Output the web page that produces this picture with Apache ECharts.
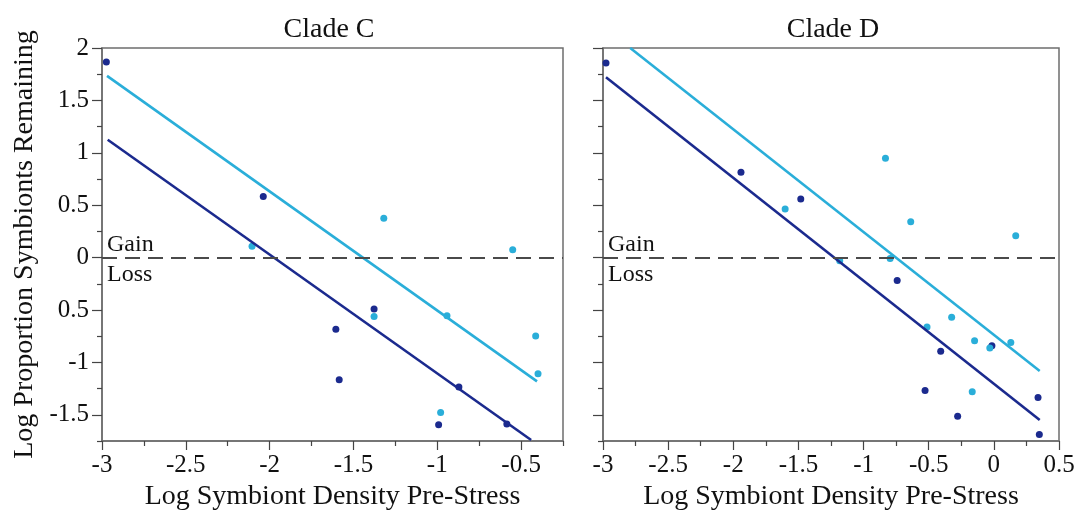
<!DOCTYPE html>
<html>
<head>
<meta charset="utf-8">
<script src="https://cdn.jsdelivr.net/npm/echarts@6/dist/echarts.min.js"></script>
<style>
html,body{margin:0;padding:0;background:#fff;}
#chart{width:1080px;height:516px;}
</style>
</head>
<body>
<div id="chart"></div>
<script>
// ---- Data ----
const panelTitles = ['Clade C', 'Clade D'];
const xAxisName = 'Log Symbiont Density Pre-Stress';
const yAxisName = 'Log Proportion Symbionts Remaining';

const yTickValues = [-1.5, -1, -0.5, 0, 0.5, 1, 1.5, 2];
const yTickLabels = ['-1.5', '-1', '0.5', '0', '0.5', '1', '1.5', '2'];
const yMinorValues = [-1.75, -1.25, -0.75, -0.25, 0.25, 0.75, 1.25, 1.75];

const xTickValuesC = [-3, -2.5, -2, -1.5, -1, -0.5];
const xTickLabelsC = ['-3', '-2.5', '-2', '-1.5', '-1', '-0.5'];
const xMinorValuesC = [-2.75, -2.25, -1.75, -1.25, -0.75, -0.25];
const xTickValuesD = [-3, -2.5, -2, -1.5, -1, -0.5, 0, 0.5];
const xTickLabelsD = ['-3', '-2.5', '-2', '-1.5', '-1', '-0.5', '0', '0.5'];
const xMinorValuesD = [-2.75, -2.25, -1.75, -1.25, -0.75, -0.25, 0.25];

// Clade C points
const cNavyX = [-2.974, -2.038, -1.377, -1.605, -1.585, -0.871, -0.992, -0.585];
const cNavyY = [1.866, 0.584, -0.491, -0.684, -1.166, -1.234, -1.594, -1.588];
const cCyanX = [-2.105, -1.319, -1.377, -0.942, -0.550, -0.413, -0.399, -0.980];
const cCyanY = [0.109, 0.375, -0.563, -0.556, 0.075, -0.747, -1.109, -1.478];
// Clade C fitted lines
const cNavyLineX = [-2.966, -0.440];
const cNavyLineY = [1.125, -1.741];
const cCyanLineX = [-2.970, -0.405];
const cCyanLineY = [1.734, -1.181];

// Clade D points
const dNavyX = [-2.977, -1.941, -1.482, -0.742, -0.408, -0.015, -0.528, -0.278, 0.339, 0.349];
const dNavyY = [1.857, 0.815, 0.560, -0.218, -0.893, -0.840, -1.269, -1.515, -1.334, -1.689];
const dCyanX = [-0.832, -0.638, -1.602, 0.168, -0.796, -1.183, -0.513, -0.324, -0.148, -0.031, 0.130, -0.166];
const dCyanY = [0.949, 0.342, 0.463, 0.208, -0.009, -0.030, -0.662, -0.569, -0.793, -0.862, -0.809, -1.281];
// Clade D fitted lines
const dNavyLineX = [-2.977, 0.352];
const dNavyLineY = [1.720, -1.549];
const dCyanLineX = [-2.791, 0.352];
const dCyanLineY = [2.000, -1.082];

// ---- Styles ----
const NAVY = '#1b2a8e';
const CYAN = '#2aaed9';
const FONT = '"Liberation Serif", "Times New Roman", serif';
const FRAME = '#6e6e6e';

const zip = (xs, ys) => xs.map((x, i) => [x, ys[i]]);

const chart = echarts.init(document.getElementById('chart'), null, {renderer: 'canvas'});

const grids = [
  {left: 102, top: 48, width: 461, height: 399, show: true, borderColor: FRAME, borderWidth: 1.5, backgroundColor: 'transparent'},
  {left: 603, top: 48, width: 456, height: 400, show: true, borderColor: FRAME, borderWidth: 1.5, backgroundColor: 'transparent'}
];

function xMajor(gridIndex, min, max, vals, labels, withName) {
  return {
    type: 'value', gridIndex, min, max, position: 'bottom',
    axisLine: {show: true, onZero: false, lineStyle: {color: FRAME, width: 1.5}},
    splitLine: {show: false},
    axisTick: {show: true, inside: false, length: 9, customValues: vals, lineStyle: {color: '#444', width: 1.2}},
    axisLabel: {show: true, customValues: vals, margin: 12, fontFamily: FONT, fontSize: 25, color: '#111',
      formatter: v => { const i = vals.findIndex(t => Math.abs(t - v) < 1e-9); return i >= 0 ? labels[i] : ''; }},
    name: withName ? xAxisName : '', nameLocation: 'middle', nameGap: 42,
    nameTextStyle: {fontFamily: FONT, fontSize: 28, color: '#111'}
  };
}
function xMinor(gridIndex, min, max, vals) {
  return {
    type: 'value', gridIndex, min, max, position: 'bottom',
    axisLine: {show: false, onZero: false}, splitLine: {show: false},
    axisTick: {show: true, length: 5, customValues: vals, lineStyle: {color: '#444', width: 1.2}},
    axisLabel: {show: false}
  };
}
function yMajor(gridIndex, showLabels, withName) {
  return {
    type: 'value', gridIndex, min: -1.75, max: 2, position: 'left',
    axisLine: {show: true, onZero: false, lineStyle: {color: FRAME, width: 1.5}},
    splitLine: {show: false},
    axisTick: {show: true, length: 10, customValues: yTickValues, lineStyle: {color: '#444', width: 1.2}},
    axisLabel: {show: showLabels, customValues: yTickValues, margin: 13, fontFamily: FONT, fontSize: 25, color: '#111',
      formatter: v => { const i = yTickValues.findIndex(t => Math.abs(t - v) < 1e-9); return i >= 0 ? yTickLabels[i] : ''; }},
    name: withName ? yAxisName : '', nameLocation: 'middle', nameGap: 63, nameRotate: 90,
    nameTextStyle: {fontFamily: FONT, fontSize: 28, color: '#111'}
  };
}
function yMinor(gridIndex) {
  return {
    type: 'value', gridIndex, min: -1.75, max: 2, position: 'left',
    axisLine: {show: false, onZero: false}, splitLine: {show: false},
    axisTick: {show: true, length: 5, customValues: yMinorValues, lineStyle: {color: '#444', width: 1.2}},
    axisLabel: {show: false}
  };
}

const zeroLine = {
  silent: true, symbol: ['none', 'none'],
  lineStyle: {color: '#4a4a4a', type: [15, 8], width: 1.8},
  label: {show: false},
  data: [{yAxis: 0}]
};

function scatter(xi, yi, xs, ys, color, withZero) {
  const s = {
    type: 'scatter', xAxisIndex: xi, yAxisIndex: yi, data: zip(xs, ys),
    symbolSize: 7, itemStyle: {color: color, opacity: 1}, z: 2
  };
  if (withZero) s.markLine = zeroLine;
  return s;
}
function fit(xi, yi, xs, ys, color) {
  return {
    type: 'line', xAxisIndex: xi, yAxisIndex: yi, data: zip(xs, ys),
    showSymbol: false, symbol: 'none', clip: true,
    lineStyle: {color: color, width: 2.6}, z: 3
  };
}

const option = {
  backgroundColor: '#fff',
  animation: false,
  title: [
    {text: panelTitles[0], left: 324, top: 11, textAlign: 'center',
     textStyle: {fontFamily: FONT, fontSize: 28, fontWeight: 'normal', color: '#111'}},
    {text: panelTitles[1], left: 828, top: 11, textAlign: 'center',
     textStyle: {fontFamily: FONT, fontSize: 28, fontWeight: 'normal', color: '#111'}}
  ],
  grid: grids,
  xAxis: [
    xMajor(0, -3, -0.25, xTickValuesC, xTickLabelsC, true),
    xMajor(1, -3, 0.5, xTickValuesD, xTickLabelsD, true),
    xMinor(0, -3, -0.25, xMinorValuesC),
    xMinor(1, -3, 0.5, xMinorValuesD)
  ],
  yAxis: [
    yMajor(0, true, true),
    yMajor(1, false, false),
    yMinor(0),
    yMinor(1)
  ],
  graphic: [
    {type: 'text', left: 107, top: 233, style: {text: 'Gain', font: '24px ' + FONT, fill: '#111'}},
    {type: 'text', left: 107, top: 263, style: {text: 'Loss', font: '24px ' + FONT, fill: '#111'}},
    {type: 'text', left: 608, top: 233, style: {text: 'Gain', font: '24px ' + FONT, fill: '#111'}},
    {type: 'text', left: 608, top: 263, style: {text: 'Loss', font: '24px ' + FONT, fill: '#111'}}
  ],
  series: [
    scatter(0, 0, cNavyX, cNavyY, NAVY, true),
    scatter(0, 0, cCyanX, cCyanY, CYAN, false),
    fit(0, 0, cCyanLineX, cCyanLineY, CYAN),
    fit(0, 0, cNavyLineX, cNavyLineY, NAVY),
    scatter(1, 1, dNavyX, dNavyY, NAVY, true),
    scatter(1, 1, dCyanX, dCyanY, CYAN, false),
    fit(1, 1, dCyanLineX, dCyanLineY, CYAN),
    fit(1, 1, dNavyLineX, dNavyLineY, NAVY)
  ]
};
chart.setOption(option);
</script>
</body>
</html>
